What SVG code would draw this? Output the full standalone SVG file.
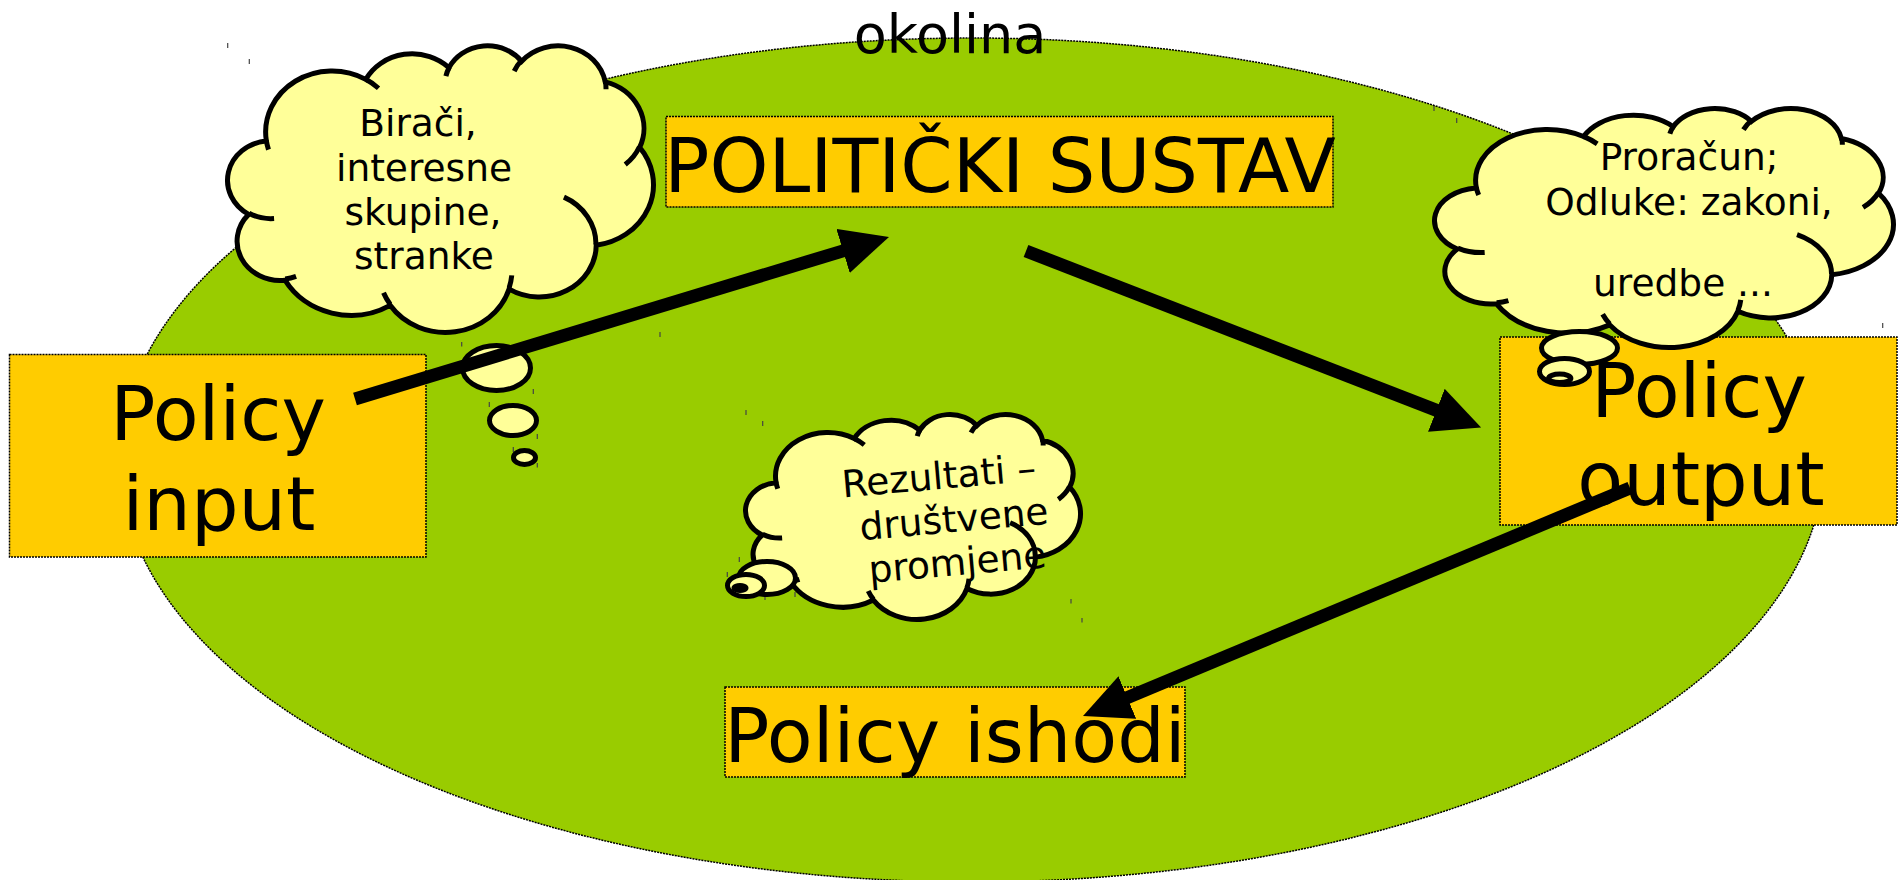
<svg xmlns="http://www.w3.org/2000/svg" xmlns:xlink="http://www.w3.org/1999/xlink" width="1898" height="880" viewBox="0 0 1898 880">
<defs>
<style>
.env{fill:#99cc00;stroke:#000;stroke-width:1.5;stroke-dasharray:2 1}
.box{fill:#ffcc00;stroke:#000;stroke-width:1.5;stroke-dasharray:2 1}
.big{font-family:"DejaVu Sans",Verdana,sans-serif;font-size:75px;fill:#000;text-anchor:middle}
.ctext{font-family:"DejaVu Sans",Verdana,sans-serif;font-size:37.5px;fill:#000;text-anchor:middle}
.title{font-family:"DejaVu Sans",Verdana,sans-serif;font-size:54px;fill:#000;text-anchor:middle}
.cloud{fill:#ffff99;stroke:#000;stroke-width:5}
.cline{fill:none;stroke:#000;stroke-width:5}
.bub{fill:#ffff99;stroke:#000;stroke-width:5}
.tick{fill:none;stroke:#444;stroke-width:1.2}
.arrow{fill:none;stroke:#000;stroke-width:13;marker-end:url(#head)}
</style>
<path id="cloudShape" vector-effect="non-scaling-stroke" d="M3900 14370A6753 9190 0 0 1 14005 5202A5333 7267 0 0 1 22456 3432A4365 5945 0 0 1 29833 2481A4857 6595 0 0 1 38318 5576A5333 7273 0 0 1 41818 15460A6775 9220 0 0 1 37404 30203A5785 7867 0 0 1 28556 36813A6752 9215 0 0 1 16480 39264A7720 10543 0 0 1 5805 35470A4360 5918 0 0 1 2114 25548A4345 5945 0 0 1 3864 14505Z"/>
<path id="cloudLines" vector-effect="non-scaling-stroke" d="M4693 26177A4345 5945 0 0 1 2160 25380M6928 34899A4360 5918 0 0 1 5820 35281M16478 39090A6752 9215 0 0 1 15810 37350M28827 34751A6752 9215 0 0 1 28560 36660M34129 22954A5785 7867 0 0 1 37380 30090M41798 15354A5333 7273 0 0 1 40350 18030M38324 5426A4857 6595 0 0 1 38401 6690M29078 3952A4857 6595 0 0 1 29820 2340M22141 4720A4365 5945 0 0 1 22500 3330M14000 5192A6753 9190 0 0 1 15300 6540M4127 15789A6753 9190 0 0 1 3900 14370"/>
<marker id="head" markerUnits="userSpaceOnUse" viewBox="0 0 48 46" markerWidth="48" markerHeight="46" refX="1" refY="23" orient="auto">
<path d="M0 0L48 23L0 46Z" fill="#000"/>
</marker>
</defs>

<g id="environment">
<ellipse class="env" cx="972" cy="460" rx="852" ry="422"/>
<text class="title" x="950" y="53">okolina</text>
</g>

<g id="ticks">
<path class="tick" d="M227.7 43v5M249.3 59v5M461.7 342v4.5M660 332v5M533.3 389v5M489.3 402v5M537.3 434v5M513.3 447v5M537.3 463v4.5M1434 106v5M1456.7 118v5M1882.7 323v5M746 410v5M762.7 421v5M739.3 557v5M727.3 572v5M765 597v3M795 592v5M1071 599v4.5M1082 618v4.5"/>
</g>

<g id="policy-input">
<rect class="box" x="9.5" y="354.5" width="416.5" height="202.5"/>
<text class="big" x="218" y="440">Policy</text>
<text class="big" x="219" y="530">input</text>
</g>

<g id="politicki-sustav">
<rect class="box" x="666" y="116.5" width="667" height="90.5"/>
<text class="big" x="1000" y="192">POLITIČKI SUSTAV</text>
</g>

<g id="policy-output">
<rect class="box" x="1500" y="337" width="397" height="188"/>
<text class="big" x="1699" y="417">Policy</text>
<text class="big" x="1701" y="505">output</text>
</g>

<g id="policy-ishodi">
<rect class="box" x="725" y="687" width="460" height="90"/>
<text class="big" x="955" y="762">Policy ishodi</text>
</g>

<g id="cloud-inputs">
<g transform="translate(227.85,44.86) scale(0.009848,0.006634)">
<use xlink:href="#cloudShape" class="cloud"/>
<use xlink:href="#cloudLines" class="cline"/>
</g>
<ellipse class="bub" cx="496.5" cy="368" rx="34" ry="22.5"/>
<ellipse class="bub" cx="513" cy="420.5" rx="23.5" ry="15"/>
<ellipse class="bub" cx="524.5" cy="457.5" rx="11" ry="7"/>
<text class="ctext" x="418" y="136">Birači,</text>
<text class="ctext" x="424" y="180.7">interesne</text>
<text class="ctext" x="423" y="225">skupine,</text>
<text class="ctext" x="424" y="269">stranke</text>
</g>

<g id="cloud-outputs">
<g transform="translate(1434.88,107.72) scale(0.010611,0.00553)">
<use xlink:href="#cloudShape" class="cloud"/>
<use xlink:href="#cloudLines" class="cline"/>
</g>
<ellipse class="bub" cx="1579.5" cy="348" rx="38" ry="16.5"/>
<ellipse class="bub" cx="1564.5" cy="371.5" rx="25" ry="13"/>
<ellipse class="bub" cx="1559.7" cy="378.3" rx="11.2" ry="4.2"/>
<text class="ctext" x="1689" y="170">Proračun;</text>
<text class="ctext" x="1689" y="215">Odluke: zakoni,</text>
<text class="ctext" x="1683" y="296">uredbe ...</text>
</g>

<g id="cloud-results">
<g transform="translate(745.78,413.83) scale(0.007745,0.004744)">
<use xlink:href="#cloudShape" class="cloud"/>
<use xlink:href="#cloudLines" class="cline"/>
</g>
<ellipse class="bub" cx="767" cy="578" rx="28.5" ry="16.5"/>
<ellipse class="bub" cx="746" cy="585.5" rx="18.5" ry="11"/>
<ellipse class="bub" cx="740" cy="588" rx="6" ry="2.5"/>
<text class="ctext" transform="translate(940,489) rotate(-5)">Rezultati –</text>
<text class="ctext" transform="translate(955,532) rotate(-5)">društvene</text>
<text class="ctext" transform="translate(958.5,575) rotate(-5)">promjene</text>
</g>

<g id="connectors">
<path class="arrow" d="M355 399L844 250.6"/>
<path class="arrow" d="M1026 251L1437.3 410.6"/>
<path class="arrow" d="M1630 488L1126.4 697.9"/>
</g>
</svg>
